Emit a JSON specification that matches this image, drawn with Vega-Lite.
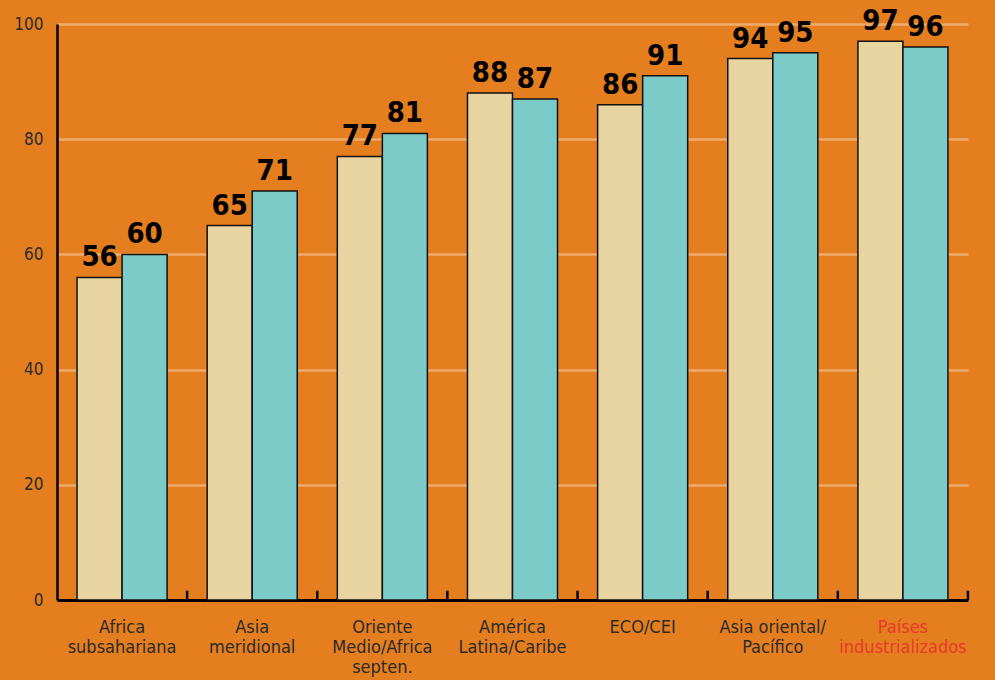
{
  "$schema": "https://vega.github.io/schema/vega-lite/v6.json",
  "width": 911,
  "height": 576,
  "autosize": {"type": "none"},
  "padding": {"left": 57, "top": 24, "right": 27, "bottom": 80},
  "background": "#E47E1E",
  "config": {
    "view": {"stroke": null},
    "font": "DejaVu Sans Condensed, Roboto, sans-serif"
  },
  "data": {
    "values": [
      {"region": "Africa|subsahariana", "serie": "niños", "valor": 56},
      {"region": "Africa|subsahariana", "serie": "niñas", "valor": 60},
      {"region": "Asia|meridional", "serie": "niños", "valor": 65},
      {"region": "Asia|meridional", "serie": "niñas", "valor": 71},
      {"region": "Oriente|Medio/Africa|septen.", "serie": "niños", "valor": 77},
      {"region": "Oriente|Medio/Africa|septen.", "serie": "niñas", "valor": 81},
      {"region": "América|Latina/Caribe", "serie": "niños", "valor": 88},
      {"region": "América|Latina/Caribe", "serie": "niñas", "valor": 87},
      {"region": "ECO/CEI", "serie": "niños", "valor": 86},
      {"region": "ECO/CEI", "serie": "niñas", "valor": 91},
      {"region": "Asia oriental/|Pacífico", "serie": "niños", "valor": 94},
      {"region": "Asia oriental/|Pacífico", "serie": "niñas", "valor": 95},
      {"region": "Países|industrializados", "serie": "niños", "valor": 97},
      {"region": "Países|industrializados", "serie": "niñas", "valor": 96}
    ]
  },
  "encoding": {
    "x": {
      "field": "region",
      "type": "nominal",
      "sort": null,
      "title": null,
      "scale": {"paddingInner": 0.308, "paddingOuter": 0.154},
      "axis": {
        "labelAngle": 0,
        "labelExpr": "split(datum.label, '|')",
        "labelFont": "DejaVu Sans Condensed, Roboto, sans-serif",
        "labelFontSize": 18,
        "labelLineHeight": 20,
        "labelPadding": 18,
        "labelColor": {"condition": {"test": "datum.value == 'Países|industrializados'", "value": "#E8392C"}, "value": "#2B2B2B"},
        "ticks": false,
        "domainColor": "#000000",
        "domainWidth": 3,
        "grid": false
      }
    },
    "y": {
      "field": "valor",
      "type": "quantitative",
      "title": null,
      "scale": {"domain": [0, 100]},
      "axis": {
        "values": [0, 20, 40, 60, 80, 100],
        "labelFont": "DejaVu Sans Condensed, Roboto, sans-serif",
        "labelFontSize": 17,
        "labelColor": "#2B2B2B",
        "labelPadding": 14,
        "ticks": false,
        "domainColor": "#000000",
        "domainWidth": 2.5,
        "grid": true,
        "gridColor": "#FFFFFF",
        "gridOpacity": 0.35,
        "gridWidth": 2.5
      }
    }
  },
  "layer": [
    {
      "mark": {"type": "bar", "stroke": "#111111", "strokeWidth": 1.5},
      "encoding": {
        "xOffset": {"field": "serie", "type": "nominal", "sort": ["niños", "niñas"], "scale": {"paddingInner": 0, "paddingOuter": 0}},
        "color": {
          "field": "serie",
          "type": "nominal",
          "scale": {"domain": ["niños", "niñas"], "range": ["#E8D4A0", "#7BCBC8"]},
          "legend": null
        }
      }
    },
    {
      "mark": {"type": "text", "baseline": "bottom", "dy": -5, "font": "DejaVu Sans Condensed, Roboto, sans-serif", "fontWeight": "bold", "fontSize": 29, "color": "#000000"},
      "encoding": {
        "xOffset": {"field": "serie", "type": "nominal", "sort": ["niños", "niñas"], "scale": {"paddingInner": 0, "paddingOuter": 0}},
        "text": {"field": "valor", "type": "quantitative"}
      }
    },
    {
      "transform": [{"filter": "datum.serie == 'niños'"}],
      "mark": {"type": "rule", "color": "#000000", "strokeWidth": 2.5, "xOffset": 20},
      "encoding": {
        "x": {"field": "region", "type": "nominal", "sort": null, "bandPosition": 1},
        "y": {"datum": 0},
        "y2": {"datum": 1.6}
      }
    }
  ]
}
